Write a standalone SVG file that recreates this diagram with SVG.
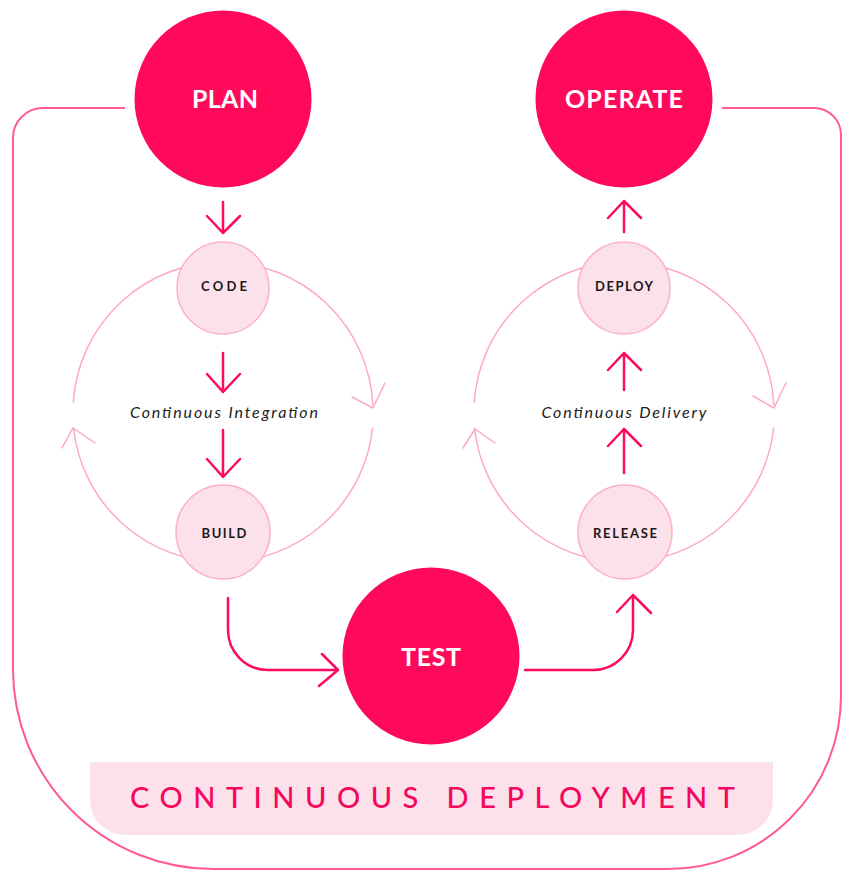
<svg xmlns="http://www.w3.org/2000/svg" width="843" height="872" viewBox="0 0 843 872">
<style>
.big{fill:#ff0a5a}
.small{fill:#fde1ea;stroke:#ffb0c9;stroke-width:1.5}
.bigt{font-family:Lato,"Open Sans","Liberation Sans",sans-serif;font-weight:700;font-size:25px;fill:#fff;text-anchor:middle}
.smt{font-family:Lato,"Open Sans","Liberation Sans",sans-serif;font-weight:700;font-size:13px;fill:#1a1a1a;text-anchor:middle}
.cap{font-family:Lato,"Open Sans","Liberation Sans",sans-serif;font-style:italic;font-size:16px;fill:#222;text-anchor:middle}
.ring{fill:none;stroke:#ffa8c5;stroke-width:1.5;stroke-linecap:round;stroke-linejoin:round}
.arr{fill:none;stroke:#ff0a62;stroke-width:2.5;stroke-linecap:round;stroke-linejoin:round}
.outer{fill:none;stroke:#ff5a92;stroke-width:2}
</style>
<g id="connectors">
<path class="outer" d="M125,108 H43 A30,30 0 0 0 13,138 V670 A200,200 0 0 0 213,869 H668 A173,173 0 0 0 841,696 V135 A27,27 0 0 0 814,108 H722"/>
<!-- left ring -->
<path class="ring" d="M223,262 A150,150 0 0 1 372.8,405"/>
<path class="ring" d="M352,397 L373,408 L385,383"/>
<path class="ring" d="M372.6,428 A150,150 0 0 1 223,562"/>
<path class="ring" d="M223,562 A150,150 0 0 1 73.5,428"/>
<path class="ring" d="M62,448 L73,428 L95,443"/>
<path class="ring" d="M73.3,402 A150,150 0 0 1 223,262"/>
<!-- right ring -->
<path class="ring" d="M624,262 A150,150 0 0 1 773.8,405"/>
<path class="ring" d="M753,396 L774,408 L786,383"/>
<path class="ring" d="M773.6,428 A150,150 0 0 1 624,562"/>
<path class="ring" d="M624,562 A150,150 0 0 1 474.5,428"/>
<path class="ring" d="M463,448 L475,429 L495,443"/>
<path class="ring" d="M474.3,402 A150,150 0 0 1 624,262"/>
<!-- vertical arrows -->
<path class="arr" d="M223,202 V233 M207,216 L223,233 L240,216"/>
<path class="arr" d="M223,353 V392 M207,374 L223,392 L240,374"/>
<path class="arr" d="M223,430 V477 M207,459 L223,477 L240,459"/>
<path class="arr" d="M624,473 V429 M608,446 L624,429 L641,446"/>
<path class="arr" d="M624,390 V353 M608,370 L624,353 L641,370"/>
<path class="arr" d="M624,232 V201 M608,218 L624,201 L641,218"/>
<!-- build to test, test to release -->
<path class="arr" d="M228,598 V630 A40,40 0 0 0 268,670 H338 M322,654 L338,670 L319,686"/>
<path class="arr" d="M525,670 H593 A40,40 0 0 0 633,630 V595 M617,612 L633,595 L651,613"/>
</g>
<g id="plan"><circle class="big" cx="223" cy="99" r="88.5"/><text class="bigt" x="225" y="108" textLength="66" lengthAdjust="spacing">PLAN</text></g>
<g id="operate"><circle class="big" cx="624" cy="99" r="88.5"/><text class="bigt" x="624" y="108" textLength="118" lengthAdjust="spacing">OPERATE</text></g>
<g id="code"><circle class="small" cx="223" cy="288" r="46"/><text class="smt" x="224" y="291" textLength="46" lengthAdjust="spacing">CODE</text></g>
<g id="build"><circle class="small" cx="223" cy="532" r="47"/><text class="smt" x="224" y="538" textLength="45" lengthAdjust="spacing">BUILD</text></g>
<g id="deploy"><circle class="small" cx="624" cy="288" r="46"/><text class="smt" x="624" y="291" textLength="58" lengthAdjust="spacing">DEPLOY</text></g>
<g id="release"><circle class="small" cx="625" cy="532" r="47"/><text class="smt" x="625" y="538" textLength="64" lengthAdjust="spacing">RELEASE</text></g>
<g id="test"><circle class="big" cx="431" cy="656" r="88.5"/><text class="bigt" x="431" y="666" textLength="60" lengthAdjust="spacing">TEST</text></g>
<g id="ci-label"><text class="cap" x="224" y="418" textLength="188" lengthAdjust="spacing">Continuous Integration</text></g>
<g id="cd-label"><text class="cap" x="624" y="418" textLength="165" lengthAdjust="spacing">Continuous Delivery</text></g>
<g id="deployment-band">
<path d="M90,762 H773 V800 A35,35 0 0 1 738,835 H125 A35,35 0 0 1 90,800 Z" fill="#fde1ea"/>
<text x="130" y="808" textLength="605" lengthAdjust="spacing" font-family="Lato,'Open Sans','Liberation Sans',sans-serif" font-size="29" font-weight="500" fill="#f5075f">CONTINUOUS DEPLOYMENT</text>
</g>
</svg>
